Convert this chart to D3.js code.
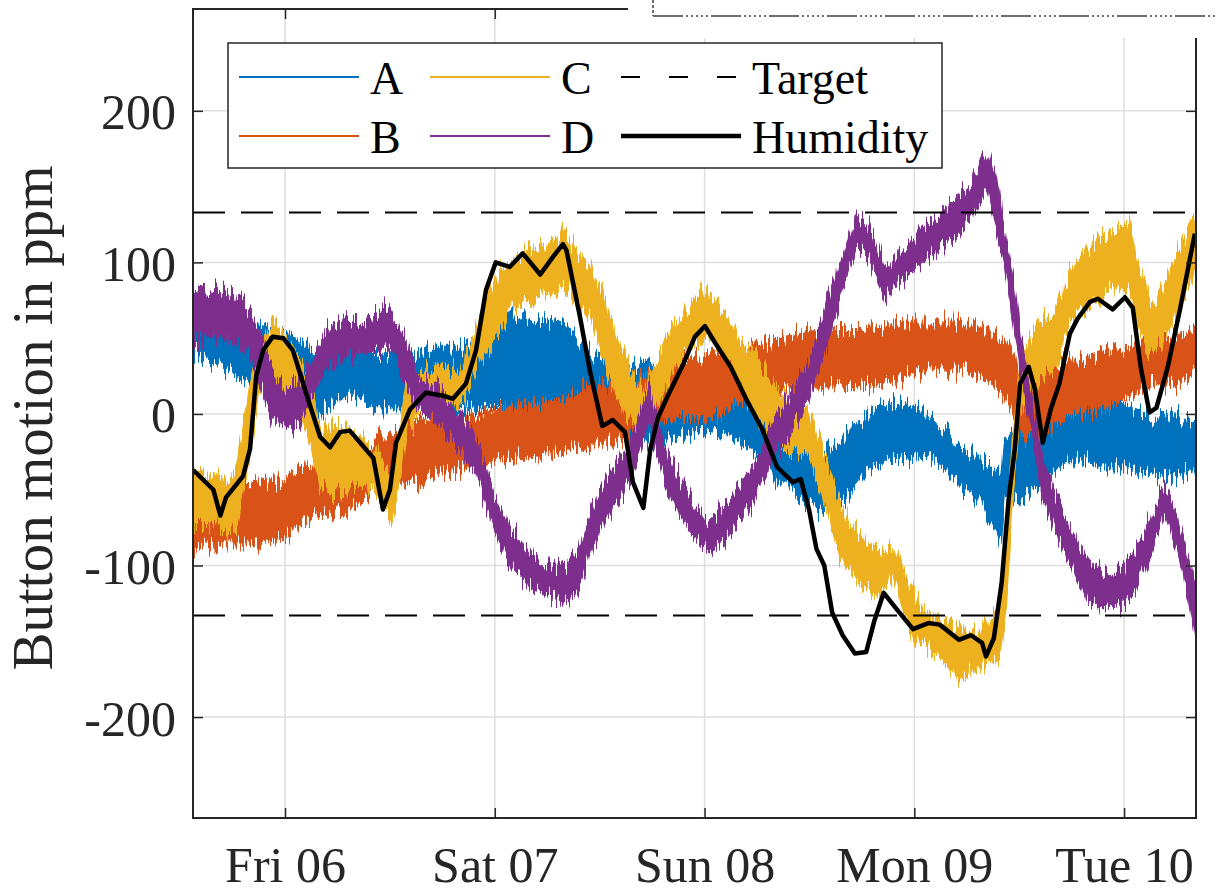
<!DOCTYPE html>
<html>
<head>
<meta charset="utf-8">
<script src="https://cdn.jsdelivr.net/npm/d3@7"></script>
<style>
  body { margin: 0; background: #fff; }
  svg { display: block; font-family: "Liberation Serif", "Times New Roman", serif; }
  .axis path, .axis line { stroke: #262626; }
  .axis text { fill: #262626; font-size: 50px; font-family: "Liberation Serif", serif; }
</style>
</head>
<body>
<svg width="1216" height="892"></svg>
<script>
// hours since Fri 06 00:00
// noisy sensors: [hour, low edge, high edge]
const seriesA = [
  [-10.5, 42, 85], [-8.2, 35, 80], [-6.0, 27, 67], [-4.0, 20, 60], [-1.0, 10, 56],
  [1.5, -4, 50], [3.5, 1, 42], [5.0, 5, 40], [7.5, 14, 40], [10.5, 4, 39],
  [13.5, 4, 39], [16.5, 7, 44], [20.0, 2, 44], [23.5, 5, 55], [26.0, 5, 64],
  [29.0, 8, 62], [32.0, 10, 60], [34.9, -5, 40], [38.0, -15, 34], [41.6, -21, 34],
  [45.0, -15, 34], [48.3, -10, 34], [51.0, -12, 30], [54.1, -25, 10], [56.3, -43, -10],
  [59.0, -55, -18], [61.7, -65, -25], [64.0, -55, -15], [66.5, -38, 0], [69.0, -30, 8],
  [71.9, -30, 5], [74.0, -28, -2], [77.0, -45, -20], [79.6, -60, -30], [81.5, -78, -38],
  [81.9, -86, -40], [82.3, -60, -15], [84.0, -56, -12], [86.0, -50, -10], [88.6, -35, 15],
  [91.0, -30, 20], [93.5, -35, 15], [96.6, -35, 5], [99.0, -40, -2], [102.0, -42, 0],
  [104.0, -35, -5], [104.3, -50, -5]
];
const seriesB = [
  [-10.5, -90, -45], [-8.2, -85, -45], [-5.6, -85, -43], [-3.0, -85, -45], [0.0, -83, -43],
  [1.7, -72, -35], [4.0, -68, -33], [7.4, -63, -30], [10.0, -52, -18], [12.4, -48, -10],
  [15.0, -45, -6], [18.1, -38, -3], [21.0, -35, -2], [23.8, -32, 3], [26.0, -30, 5],
  [29.5, -28, 8], [32.0, -25, 10], [35.0, -20, 18], [38.0, -19, 20], [41.6, -6, 28],
  [45.0, -3, 33], [48.3, -2, 38], [51.0, 5, 40], [54.1, 16, 47], [57.0, 16, 50],
  [60.0, 16, 55], [63.0, 18, 55], [66.0, 18, 55], [69.0, 20, 58], [72.0, 29, 60],
  [75.0, 29, 60], [78.0, 28, 60], [80.5, 25, 55], [81.8, 15, 50], [83.0, 5, 45],
  [84.1, -15, 25], [86.0, -17, 20], [88.6, -5, 35], [91.0, 0, 38], [93.0, 2, 40],
  [96.0, 10, 45], [99.0, 18, 48], [102.0, 20, 52], [104.3, 25, 55]
];
const seriesC = [
  [-10.5, -73, -37], [-8.2, -72, -40], [-6.5, -80, -45], [-5.5, -75, -35], [-4.0, -25, 20],
  [-3.0, 15, 45], [-1.1, 16, 60], [0.5, 10, 47], [2.0, -5, 35], [3.0, -23, 20],
  [4.0, -50, -6], [6.0, -52, -10], [8.6, -45, -15], [10.5, -55, -25], [12.0, -72, -40],
  [12.7, -60, -25], [14.0, -10, 28], [16.1, 5, 31], [18.1, 10, 30], [20.0, 5, 28],
  [21.2, 20, 45], [22.7, 40, 70], [24.5, 53, 95], [26.0, 70, 100], [28.0, 75, 108],
  [30.0, 78, 112], [32.0, 85, 120], [33.5, 70, 105], [35.0, 64, 97], [36.5, 35, 75],
  [38.0, 10, 50], [40.0, -8, 25], [41.0, -10, 15], [42.0, 0, 30], [44.0, 20, 55],
  [46.0, 40, 70], [48.3, 51, 82], [50.6, 35, 65], [52.0, 20, 48], [54.1, -2, 38],
  [56.3, -23, 16], [58.5, -25, 5], [60.0, -30, 0], [61.0, -45, -15], [62.5, -75, -40],
  [63.5, -95, -60], [64.5, -105, -70], [66.5, -115, -85], [68.0, -122, -90], [69.6, -105, -87],
  [70.5, -125, -100], [72.0, -150, -120], [73.5, -155, -132], [75.0, -160, -133], [77.0, -177, -142],
  [78.5, -170, -145], [80.2, -165, -140], [81.8, -160, -128], [82.5, -130, -80], [83.2, -60, -20],
  [84.1, 0, 35], [86.0, 20, 60], [88.0, 30, 65], [89.8, 60, 95], [92.0, 70, 110],
  [94.0, 80, 118], [96.5, 85, 127], [97.5, 60, 100], [98.5, 45, 85], [99.2, 39, 70],
  [100.5, 50, 85], [102.0, 65, 105], [104.3, 100, 131]
];
const seriesD = [
  [-10.5, 49, 85], [-8.2, 51, 82], [-6.0, 48, 80], [-4.0, 40, 70], [-3.0, 20, 55],
  [-1.5, -3, 30], [0.0, -10, 15], [1.7, -5, 22], [3.5, 15, 42], [4.7, 30, 55],
  [7.0, 40, 62], [9.0, 38, 60], [11.8, 45, 70], [13.8, 20, 50], [15.5, 0, 25],
  [17.5, -5, 18], [18.4, -12, 10], [20.7, -30, -5], [21.9, -40, -15], [23.8, -75, -50],
  [25.7, -100, -75], [28.0, -115, -92], [30.0, -118, -98], [32.0, -125, -102], [33.5, -118, -92],
  [35.0, -90, -65], [37.0, -65, -40], [39.4, -45, -20], [40.7, -25, 0], [41.6, -5, 20],
  [42.5, -25, -2], [43.8, -50, -28], [46.0, -75, -50], [48.3, -92, -72], [50.5, -82, -60],
  [53.0, -65, -40], [55.5, -35, -10], [58.0, -10, 15], [60.0, 10, 35], [62.0, 45, 75],
  [63.5, 75, 100], [65.3, 110, 132], [66.5, 105, 128], [68.8, 75, 95], [70.0, 85, 105],
  [73.0, 100, 122], [76.0, 112, 138], [78.5, 128, 152], [80.4, 150, 174], [81.3, 120, 160],
  [82.3, 100, 125], [83.2, 65, 95], [84.1, 30, 55], [85.3, -10, 15], [86.7, -55, -30],
  [88.0, -75, -50], [89.8, -100, -75], [91.6, -122, -95], [94.0, -129, -105], [96.0, -125, -100],
  [97.0, -120, -95], [99.0, -95, -70], [100.6, -65, -48], [102.0, -90, -65], [103.5, -125, -100],
  [104.3, -150, -120]
];
// humidity: [hour, value]
const humidity = [
  [-10.5, -37], [-8.2, -50], [-7.4, -67], [-6.75, -55], [-4.8, -41], [-4.0, -23], [-3.3, 25],
  [-2.5, 42], [-1.4, 51], [-0.2, 50], [0.9, 42], [2.4, 14], [4.0, -15], [5.15, -22],
  [6.3, -12], [7.4, -11], [8.6, -19], [10.1, -29], [11.2, -63], [12.0, -50], [12.7, -19],
  [14.3, 3], [16.1, 14], [18.1, 12], [19.2, 10], [20.7, 20], [21.85, 42], [23.0, 82],
  [24.1, 100], [25.7, 97], [27.2, 106], [29.2, 92], [30.7, 104], [31.8, 112], [32.2, 108],
  [33.75, 64], [34.9, 28], [36.3, -8], [37.5, -4], [38.9, -12], [39.8, -45], [41.0, -62],
  [41.8, -23], [42.7, -2], [43.8, 12], [45.65, 34], [46.9, 51], [48.05, 58], [49.2, 47],
  [51.0, 31], [52.75, 10], [54.6, -10], [56.3, -35], [58.1, -45], [59.0, -43], [59.95, -63],
  [60.8, -89], [61.7, -100], [62.6, -131], [63.8, -146], [65.2, -158], [66.5, -157],
  [67.4, -137], [68.5, -118], [70.0, -129], [71.85, -142], [73.6, -138], [74.9, -139],
  [77.1, -149], [78.5, -146], [79.75, -151], [80.2, -160], [81.1, -148], [82.0, -111],
  [82.8, -56], [83.5, -23], [84.1, 20], [85.1, 31], [85.8, 16], [86.7, -19], [87.6, 3],
  [88.6, 20], [89.8, 53], [90.7, 63], [92.1, 74], [93.0, 76], [94.7, 69], [96.1, 77],
  [97.0, 70], [97.9, 31], [98.9, 1], [99.7, 4], [101.0, 31], [102.4, 69], [104.1, 119]
];
const targetLevels = [133, -133];
const yTicks = [-200, -100, 0, 100, 200];
const hourRange = [-10.53, 104.23];
const yRange = [-266.6, 267.2];

const series = [
  { name: "A", color: "#0072BD", data: seriesA },
  { name: "B", color: "#D95319", data: seriesB },
  { name: "C", color: "#EDB120", data: seriesC },
  { name: "D", color: "#7E2F8E", data: seriesD }
];

const base = new Date(2019, 11, 6);
const t = (h) => new Date(base.getTime() + h * 3600e3);

const svg = d3.select("svg");
const pLeft = 193, pRight = 1196, pTop = 9, pBottom = 818;

const x = d3.scaleTime().domain(hourRange.map(t)).range([pLeft, pRight]);
const y = d3.scaleLinear().domain(yRange).range([pBottom, pTop]);
const dayTicks = d3.timeDay.range(t(0), t(hourRange[1]));

const defs = svg.append("defs");
defs.append("clipPath").attr("id", "clip")
  .append("rect").attr("x", pLeft).attr("y", pTop)
  .attr("width", pRight - pLeft).attr("height", pBottom - pTop);

// jagged edge texture for the dense sensor traces (style only)
const rough = defs.append("filter").attr("id", "rough")
  .attr("x", "-2%").attr("y", "-30%").attr("width", "104%").attr("height", "160%")
  .attr("color-interpolation-filters", "sRGB");
rough.append("feTurbulence").attr("type", "fractalNoise")
  .attr("baseFrequency", "0.45 0.015").attr("numOctaves", 2).attr("seed", 4)
  .attr("result", "n");
const ct = rough.append("feComponentTransfer").attr("in", "n").attr("result", "m");
ct.append("feFuncR").attr("type", "linear").attr("slope", 0).attr("intercept", 0.5);
ct.append("feFuncG").attr("type", "linear").attr("slope", 1.6).attr("intercept", -0.3);
rough.append("feDisplacementMap").attr("in", "SourceGraphic").attr("in2", "m")
  .attr("scale", 26).attr("xChannelSelector", "R").attr("yChannelSelector", "G");

// grid
const grid = svg.append("g").attr("stroke", "#dedede").attr("stroke-width", 1.5);
grid.selectAll(".gx").data(dayTicks).enter().append("line")
  .attr("x1", (d) => x(d)).attr("x2", (d) => x(d))
  .attr("y1", pTop).attr("y2", pBottom);
grid.selectAll(".gy").data(yTicks).enter().append("line")
  .attr("x1", pLeft).attr("x2", pRight)
  .attr("y1", (d) => y(d)).attr("y2", (d) => y(d));

const plot = svg.append("g").attr("clip-path", "url(#clip)");

const band = d3.area()
  .x((d) => x(t(d[0])))
  .y0((d) => y(d[1]))
  .y1((d) => y(d[2]));

plot.selectAll(".band").data(series).enter().append("path")
  .attr("class", "band")
  .attr("fill", (d) => d.color)
  .attr("stroke", (d) => d.color)
  .attr("stroke-width", 1.2)
  .attr("filter", "url(#rough)")
  .attr("d", (d) => band(d.data));

const valueLine = d3.line()
  .x((d) => x(t(d[0])))
  .y((d) => y(d[1]));

plot.append("path")
  .attr("fill", "none")
  .attr("stroke", "#000")
  .attr("stroke-width", 4.5)
  .attr("stroke-linejoin", "round")
  .attr("d", valueLine(humidity));

plot.selectAll(".target").data(targetLevels).enter().append("line")
  .attr("x1", pLeft).attr("x2", pRight)
  .attr("y1", (d) => y(d)).attr("y2", (d) => y(d))
  .attr("stroke", "#000").attr("stroke-width", 2)
  .attr("stroke-dasharray", "32,16");

// axes
const fmt = d3.timeFormat("%a %d");
svg.append("g").attr("class", "axis")
  .attr("transform", `translate(0,${pBottom})`)
  .call(d3.axisBottom(x).tickValues(dayTicks).tickFormat(fmt).tickSize(-10).tickPadding(28))
  .call((g) => g.select(".domain").remove());
svg.append("g").attr("class", "axis")
  .attr("transform", `translate(0,${pTop})`)
  .call(d3.axisTop(x).tickValues(dayTicks).tickFormat("").tickSize(-10))
  .call((g) => g.select(".domain").remove());
svg.append("g").attr("class", "axis")
  .attr("transform", `translate(${pLeft},0)`)
  .call(d3.axisLeft(y).tickValues(yTicks).tickFormat((d) => String(d)).tickSize(-10).tickPadding(17))
  .call((g) => g.select(".domain").remove())
  .call((g) => g.selectAll("text").attr("dy", "0.36em"));
svg.append("g").attr("class", "axis")
  .attr("transform", `translate(${pRight},0)`)
  .call(d3.axisRight(y).tickValues(yTicks).tickFormat("").tickSize(-10))
  .call((g) => g.select(".domain").remove());
svg.selectAll(".axis line").attr("stroke-width", 1.5);

svg.append("rect")
  .attr("x", pLeft).attr("y", pTop)
  .attr("width", pRight - pLeft).attr("height", pBottom - pTop)
  .attr("fill", "none").attr("stroke", "#262626").attr("stroke-width", 2);

svg.append("text")
  .attr("transform", "translate(52,418) rotate(-90)")
  .attr("text-anchor", "middle")
  .attr("fill", "#262626")
  .attr("font-size", 57)
  .text("Button motion in ppm");

// legend
const legendItems = [
  { name: "A", color: "#0072BD", col: 0, row: 0 },
  { name: "B", color: "#D95319", col: 0, row: 1 },
  { name: "C", color: "#EDB120", col: 1, row: 0 },
  { name: "D", color: "#7E2F8E", col: 1, row: 1 },
  { name: "Target", color: "#000", col: 2, row: 0, dash: "19,29", width: 2 },
  { name: "Humidity", color: "#000", col: 2, row: 1, width: 4.5 }
];
const colX = [239, 430, 621];
const rowY = [77, 136];
const legend = svg.append("g");
legend.append("rect")
  .attr("x", 228).attr("y", 43).attr("width", 714).attr("height", 125)
  .attr("fill", "#fff").attr("stroke", "#262626").attr("stroke-width", 1.5);
const li = legend.selectAll(".li").data(legendItems).enter().append("g");
li.append("line")
  .attr("x1", (d) => colX[d.col]).attr("x2", (d) => colX[d.col] + 120)
  .attr("y1", (d) => rowY[d.row]).attr("y2", (d) => rowY[d.row])
  .attr("stroke", (d) => d.color)
  .attr("stroke-width", (d) => d.width || 2)
  .attr("stroke-dasharray", (d) => d.dash || null);
li.append("text")
  .attr("x", (d) => colX[d.col] + 131)
  .attr("y", (d) => rowY[d.row] + 17)
  .attr("font-size", 46)
  .attr("fill", "#000")
  .text((d) => d.name);

// clipped box that overlaps the top edge
svg.append("rect").attr("x", 628).attr("y", 0).attr("width", 588).attr("height", 38).attr("fill", "#fff");
svg.append("line").attr("x1", 653).attr("x2", 653).attr("y1", 0).attr("y2", 16)
  .attr("stroke", "#404040").attr("stroke-width", 1.5).attr("stroke-dasharray", "3,2");
svg.append("line").attr("x1", 653).attr("x2", 1216).attr("y1", 16).attr("y2", 16)
  .attr("stroke", "#404040").attr("stroke-width", 1.5)
  .attr("stroke-dasharray", "30,3,2,3,2,3,2,3,2,3,2,3");
</script>
</body>
</html>
